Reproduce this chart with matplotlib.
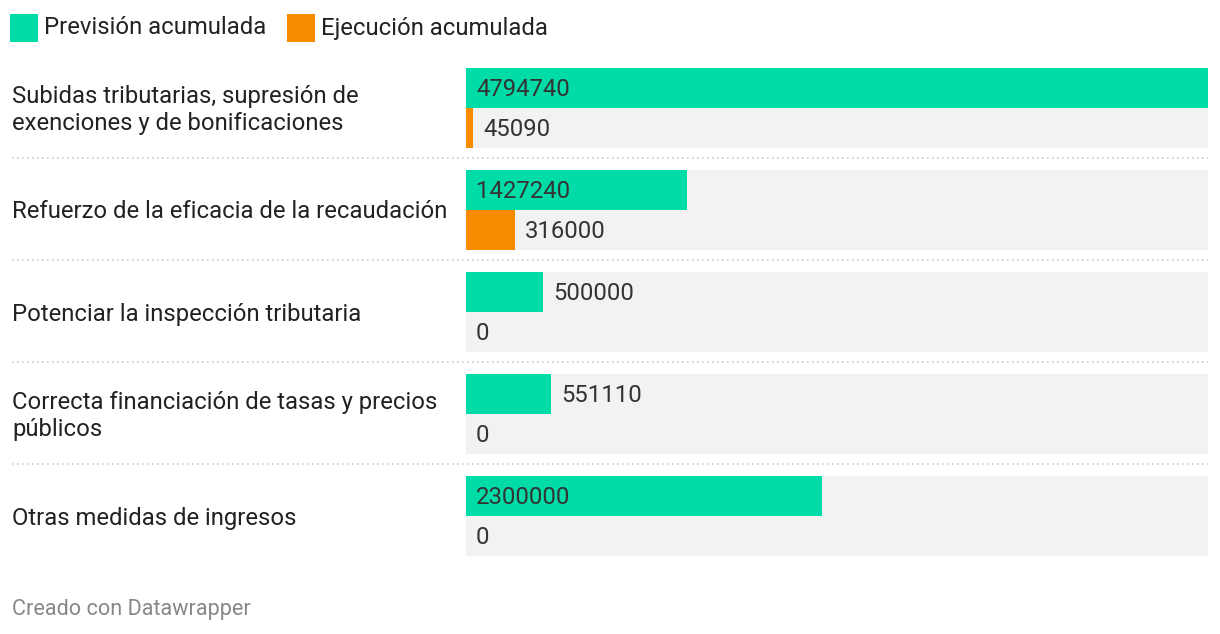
import matplotlib
matplotlib.use("Agg")
import matplotlib.pyplot as plt
from matplotlib.lines import Line2D
from matplotlib.patches import Rectangle

plt.rcParams['font.family'] = ['Roboto', 'DejaVu Sans']

categories = [
    "Subidas tributarias, supresión de\nexenciones y de bonificaciones",
    "Refuerzo de la eficacia de la recaudación",
    "Potenciar la inspección tributaria",
    "Correcta financiación de tasas y precios\npúblicos",
    "Otras medidas de ingresos",
]
prevision = [4794740, 1427240, 500000, 551110, 2300000]
ejecucion = [45090, 316000, 0, 0, 0]
series_names = ["Previsión acumulada", "Ejecución acumulada"]

GREEN = "#00dca8"
ORANGE = "#f98b00"
BG = "#f2f2f2"
FS = 17.2

W, H = 1220, 634
fig = plt.figure(figsize=(W / 100, H / 100), dpi=100)

def fx(px):
    return px / W

def fy(py):
    return 1 - py / H

# bar axes region in pixels
left, right, top, bottom = 466, 1208, 68, 556
ax = fig.add_axes([fx(left), fy(bottom), fx(right - left), (bottom - top) / H])
xmax = max(max(prevision), max(ejecucion))
ax.set_xlim(0, xmax)
ax.set_ylim(bottom - top, 0)
ax.axis("off")

step = 102
barh_ = 40
bar_px = right - left
for i, (p, e) in enumerate(zip(prevision, ejecucion)):
    y0 = i * step
    ax.barh(y0 + barh_, xmax, height=2 * barh_, color=BG, linewidth=0)
    ax.barh(y0 + barh_ / 2, p, height=barh_, color=GREEN, linewidth=0)
    ax.barh(y0 + 1.5 * barh_, e, height=barh_, color=ORANGE, linewidth=0)
    for v, yc in ((p, y0 + barh_ / 2), (e, y0 + 1.5 * barh_)):
        wpx = v / xmax * bar_px
        txt = f"{v}"
        xpos = 0 if wpx > 130 else v
        ax.annotate(txt, (xpos, yc), xytext=(10, -2), textcoords="offset pixels",
                    va="center", ha="left", fontsize=FS, color="#333333",
                    annotation_clip=False)
    # category label
    fig.text(fx(12), fy(top + y0 + barh_ + 2), categories[i], ha="left", va="center",
             fontsize=FS, color="#222222", linespacing=1.25)
    if i < len(categories) - 1:
        ysep = fy(top + y0 + 90)
        fig.add_artist(Line2D([fx(12), fx(1208)], [ysep, ysep], color="#cccccc",
                              linewidth=1.2, linestyle=(0, (1, 2))))

# legend
lx = 10
for name, col in zip(series_names, [GREEN, ORANGE]):
    fig.add_artist(Rectangle((fx(lx), fy(42)), fx(28), 28 / H, color=col,
                             transform=fig.transFigure, linewidth=0))
    t = fig.text(fx(lx + 34), fy(28), name, ha="left", va="center",
                 fontsize=FS, color="#222222")
    fig.canvas.draw()
    bb = t.get_window_extent()
    lx = bb.x1 + 21

fig.text(fx(12), fy(610), "Creado con Datawrapper", ha="left", va="center",
         fontsize=15.6, color="#888888")

fig.savefig("out.png", dpi=100, facecolor="white")
